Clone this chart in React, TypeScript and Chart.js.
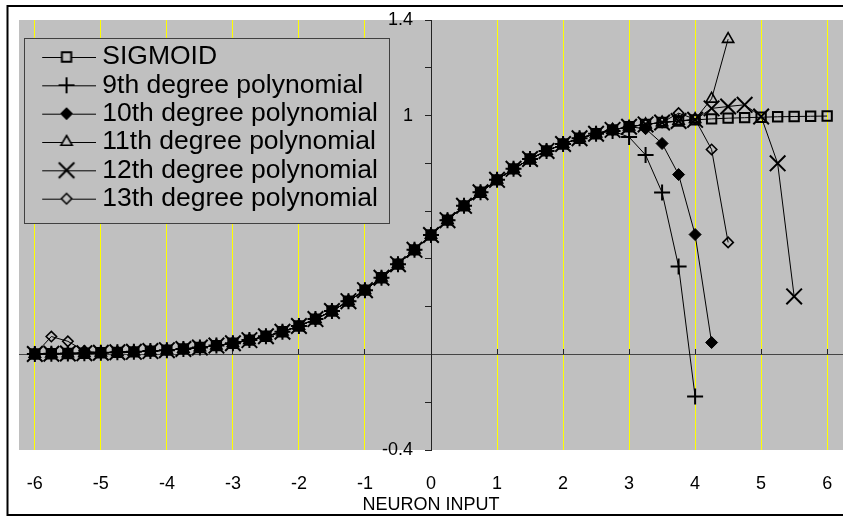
import React, { useEffect, useRef } from 'react';
import { Chart, registerables } from 'chart.js';

Chart.register(...registerables);

// ---------------- data ----------------
const xValues = [
  -6, -5.75, -5.5, -5.25, -5, -4.75, -4.5, -4.25, -4, -3.75, -3.5, -3.25, -3,
  -2.75, -2.5, -2.25, -2, -1.75, -1.5, -1.25, -1, -0.75, -0.5, -0.25, 0,
  0.25, 0.5, 0.75, 1, 1.25, 1.5, 1.75, 2, 2.25, 2.5, 2.75, 3, 3.25, 3.5, 3.75,
  4, 4.25, 4.5, 4.75, 5, 5.25, 5.5, 5.75, 6,
];

const sigmoid = [
  0.002, 0.003, 0.004, 0.005, 0.007, 0.009, 0.011, 0.014, 0.018, 0.023, 0.029, 0.037, 0.047,
  0.060, 0.076, 0.095, 0.119, 0.148, 0.182, 0.223, 0.269, 0.321, 0.378, 0.438, 0.500,
  0.562, 0.622, 0.679, 0.731, 0.777, 0.818, 0.852, 0.881, 0.905, 0.924, 0.940, 0.953, 0.963, 0.971, 0.977,
  0.982, 0.986, 0.989, 0.991, 0.993, 0.995, 0.996, 0.997, 0.998,
];

const poly9 = [
  0.002, 0.003, 0.004, 0.005, 0.007, 0.009, 0.011, 0.014, 0.018, 0.023, 0.029, 0.037, 0.047,
  0.060, 0.076, 0.095, 0.119, 0.148, 0.182, 0.223, 0.269, 0.321, 0.378, 0.438, 0.500,
  0.562, 0.622, 0.679, 0.731, 0.777, 0.818, 0.852, 0.881, 0.905, 0.924, 0.935, 0.910, 0.835, 0.678, 0.368,
  -0.176,
];

const poly10 = [
  0.002, 0.003, 0.004, 0.005, 0.007, 0.009, 0.011, 0.014, 0.018, 0.023, 0.029, 0.037, 0.047,
  0.060, 0.076, 0.095, 0.119, 0.148, 0.182, 0.223, 0.269, 0.321, 0.378, 0.438, 0.500,
  0.562, 0.622, 0.679, 0.731, 0.777, 0.818, 0.852, 0.881, 0.905, 0.924, 0.940, 0.953, 0.945, 0.883, 0.753,
  0.502, 0.050,
];

const poly11 = [
  0.002, 0.003, 0.004, 0.005, 0.007, 0.009, 0.011, 0.014, 0.018, 0.023, 0.029, 0.037, 0.047,
  0.060, 0.076, 0.095, 0.119, 0.148, 0.182, 0.223, 0.269, 0.321, 0.378, 0.438, 0.500,
  0.562, 0.622, 0.679, 0.731, 0.777, 0.818, 0.852, 0.881, 0.905, 0.924, 0.940, 0.953, 0.963, 0.971, 0.977,
  0.985, 1.070, 1.320,
];

const poly12 = [
  0.002, 0.003, 0.004, 0.005, 0.007, 0.009, 0.011, 0.014, 0.018, 0.023, 0.029, 0.037, 0.047,
  0.060, 0.076, 0.095, 0.119, 0.148, 0.182, 0.223, 0.269, 0.321, 0.378, 0.438, 0.500,
  0.562, 0.622, 0.679, 0.731, 0.777, 0.818, 0.852, 0.881, 0.905, 0.924, 0.940, 0.953, 0.963, 0.971, 0.977,
  0.982, 1.030, 1.038, 1.045, 0.996, 0.800, 0.243,
];

const poly13 = [
  0.000, 0.075, 0.055, 0.015, 0.006, 0.009, 0.011, 0.014, 0.018, 0.023, 0.029, 0.037, 0.047,
  0.060, 0.076, 0.095, 0.119, 0.148, 0.182, 0.223, 0.269, 0.321, 0.378, 0.438, 0.500,
  0.562, 0.622, 0.679, 0.731, 0.777, 0.818, 0.852, 0.881, 0.905, 0.924, 0.940, 0.953, 0.963, 0.971, 1.010,
  0.985, 0.858, 0.469,
];

const seriesLabels = [
  'SIGMOID',
  '9th degree polynomial',
  '10th degree polynomial',
  '11th degree polynomial',
  '12th degree polynomial',
  '13th degree polynomial',
];
const seriesValues = [sigmoid, poly9, poly10, poly11, poly12, poly13];

const xTickValues = [-6, -5, -4, -3, -2, -1, 0, 1, 2, 3, 4, 5, 6];
const yTickLabels = ['1.4', '1', '-0.4'];
const xAxisTitle = 'NEURON INPUT';

// ---------------- styles ----------------
const FONT = "'Liberation Sans', Arial, sans-serif";
const PLOT_BG = '#c0c0c0';

type Marker = { pointStyle: string; radius: number; lineWidth: number; fill: boolean };
const markers: Marker[] = [
  { pointStyle: 'rect', radius: 6.6, lineWidth: 2, fill: false },
  { pointStyle: 'cross', radius: 8, lineWidth: 2, fill: false },
  { pointStyle: 'rectRot', radius: 6, lineWidth: 1, fill: true },
  { pointStyle: 'triangle', radius: 6.5, lineWidth: 1.6, fill: false },
  { pointStyle: 'crossRot', radius: 11, lineWidth: 2, fill: false },
  { pointStyle: 'rectRot', radius: 5.2, lineWidth: 1.6, fill: false },
];

function makeSample(m: Marker): HTMLCanvasElement {
  const c = document.createElement('canvas');
  c.width = 58;
  c.height = 22;
  const g = c.getContext('2d')!;
  const cx = 29;
  const cy = 11;
  g.strokeStyle = '#000';
  g.lineWidth = 1;
  g.beginPath();
  g.moveTo(0, cy + 0.5);
  g.lineTo(58, cy + 0.5);
  g.stroke();
  const r = m.radius;
  g.lineWidth = m.lineWidth;
  g.fillStyle = m.fill ? '#000' : PLOT_BG;
  g.beginPath();
  if (m.pointStyle === 'rect') {
    const s = r * Math.SQRT1_2;
    g.rect(cx - s, cy - s, 2 * s, 2 * s);
    g.fill();
    g.stroke();
  } else if (m.pointStyle === 'rectRot') {
    g.moveTo(cx - r, cy);
    g.lineTo(cx, cy - r);
    g.lineTo(cx + r, cy);
    g.lineTo(cx, cy + r);
    g.closePath();
    g.fill();
    g.stroke();
  } else if (m.pointStyle === 'triangle') {
    let a = 0;
    g.moveTo(cx + Math.sin(a) * r, cy - Math.cos(a) * r);
    a += (2 * Math.PI) / 3;
    g.lineTo(cx + Math.sin(a) * r, cy - Math.cos(a) * r);
    a += (2 * Math.PI) / 3;
    g.lineTo(cx + Math.sin(a) * r, cy - Math.cos(a) * r);
    g.closePath();
    g.fill();
    g.stroke();
  } else if (m.pointStyle === 'cross') {
    g.moveTo(cx, cy - r);
    g.lineTo(cx, cy + r);
    g.moveTo(cx - r, cy);
    g.lineTo(cx + r, cy);
    g.stroke();
  } else if (m.pointStyle === 'crossRot') {
    const d = r * Math.SQRT1_2;
    g.moveTo(cx - d, cy - d);
    g.lineTo(cx + d, cy + d);
    g.moveTo(cx + d, cy - d);
    g.lineTo(cx - d, cy + d);
    g.stroke();
  }
  return c;
}

const zeroPadding = (s: any) => {
  s.paddingLeft = 0;
  s.paddingRight = 0;
  s.paddingTop = 0;
  s.paddingBottom = 0;
};

export default function App() {
  const canvasRef = useRef<HTMLCanvasElement | null>(null);

  useEffect(() => {
    document.body.style.margin = '0';
    const canvas = canvasRef.current;
    if (!canvas) return;
    const samples = markers.map(makeSample);

    const datasets = seriesValues.map((vals, i) => ({
      label: seriesLabels[i],
      data: vals.map((y, j) => ({ x: xValues[j], y })),
      borderColor: '#000',
      borderWidth: 1,
      backgroundColor: '#000',
      pointStyle: markers[i].pointStyle as any,
      pointRadius: markers[i].radius,
      pointBorderWidth: markers[i].lineWidth,
      pointBorderColor: '#000',
      pointBackgroundColor: markers[i].fill ? '#000' : 'rgba(0,0,0,0)',
      fill: false,
      tension: 0,
    }));

    const decor = {
      id: 'decor',
      beforeLayout(chart: any) {
        const lg = chart.legend;
        if (lg) {
          lg._layers = () => [{ z: 1, draw: (area: any) => lg.draw(area) }];
        }
      },
      afterLayout(chart: any) {
        const lg = chart.legend;
        const ca = chart.chartArea;
        if (lg) {
          lg.left = ca.left + 23.2;
          lg.top = ca.top + 21.9;
          if (lg.adjustHitBoxes) lg.adjustHitBoxes();
        }
      },
      beforeDraw(chart: any) {
        const { ctx, chartArea: ca } = chart;
        ctx.save();
        ctx.fillStyle = PLOT_BG;
        ctx.fillRect(ca.left, ca.top, ca.right - ca.left, ca.bottom - ca.top);
        ctx.strokeStyle = '#000';
        ctx.lineWidth = 2;
        ctx.strokeRect(7.5, 6, chart.width + 20, chart.height - 7);
        ctx.restore();
      },
      afterDatasetsDraw(chart: any) {
        const { ctx, chartArea: ca } = chart;
        ctx.save();
        ctx.fillStyle = PLOT_BG;
        ctx.strokeStyle = '#404040';
        ctx.lineWidth = 1;
        ctx.fillRect(ca.left + 5.5, ca.top + 18.5, 365, 185);
        ctx.strokeRect(ca.left + 5.5, ca.top + 18.5, 365, 185);
        ctx.restore();
      },
    };

    const setXTicks = (scale: any) => {
      scale.ticks = xTickValues.map((v) => ({ value: v }));
    };

    const chart = new Chart(canvas, {
      type: 'line',
      data: { datasets: datasets as any },
      options: {
        responsive: false,
        animation: false,
        events: [],
        layout: { autoPadding: false, padding: { left: 19, top: 20, right: 0, bottom: 0 } },
        scales: {
          x: {
            type: 'linear',
            position: 'bottom',
            min: -6.24,
            max: 6.24,
            z: -1,
            afterBuildTicks: setXTicks,
            afterFit: (s: any) => {
              s.height = 66;
              zeroPadding(s);
            },
            ticks: {
              font: { family: FONT, size: 18 },
              color: '#000',
              padding: 22.8,
              autoSkip: false,
              maxRotation: 0,
              callback: (v: any) => String(v),
            },
            grid: { color: '#ffff00', lineWidth: 1, drawTicks: false, drawOnChartArea: true },
            border: { display: false },
            title: {
              display: true,
              text: xAxisTitle,
              font: { family: FONT, size: 18 },
              color: '#000',
              padding: { top: 0, bottom: 0 },
            },
          },
          x2: {
            type: 'linear',
            position: { y: 0 } as any,
            min: -6.24,
            max: 6.24,
            z: -1,
            afterBuildTicks: setXTicks,
            afterFit: zeroPadding,
            ticks: { display: false },
            grid: { drawOnChartArea: false, drawTicks: true, tickLength: -6, tickColor: '#222', color: '#222' },
            border: { display: true, color: '#444', width: 1 },
          },
          y: {
            type: 'linear',
            position: { x: 0 } as any,
            min: -0.4,
            max: 1.4,
            z: -1,
            afterFit: zeroPadding,
            ticks: {
              stepSize: 0.2,
              autoSkip: false,
              font: { family: FONT, size: 18 },
              color: '#000',
              callback: (v: any) => {
                const r = String(Math.round(Number(v) * 10) / 10);
                return yTickLabels.includes(r) ? r + '\u2002\u2002' : '';
              },
            },
            grid: { drawOnChartArea: false, drawTicks: true, tickLength: 6, tickColor: '#222', color: '#222' },
            border: { display: true, color: '#222', width: 1 },
          },
        },
        plugins: {
          tooltip: { enabled: false },
          title: { display: false },
          legend: {
            display: true,
            position: 'chartArea' as any,
            align: 'start',
            fullSize: false,
            labels: {
              font: { family: FONT, size: 26.5 },
              color: '#000',
              padding: 1.83,
              usePointStyle: true,
              pointStyleWidth: 45,
              generateLabels: (ch: any) => {
                const items = (Chart.defaults.plugins.legend.labels as any).generateLabels(ch);
                items.forEach((it: any, i: number) => {
                  it.pointStyle = samples[i];
                  it.fontColor = '#000';
                });
                return items;
              },
            },
          },
        },
      },
      plugins: [decor as any],
    });

    return () => {
      chart.destroy();
    };
  }, []);

  return (
    <div style={{ width: 843, height: 516 }}>
      <canvas ref={canvasRef} width={843} height={516} style={{ display: 'block' }} />
    </div>
  );
}
